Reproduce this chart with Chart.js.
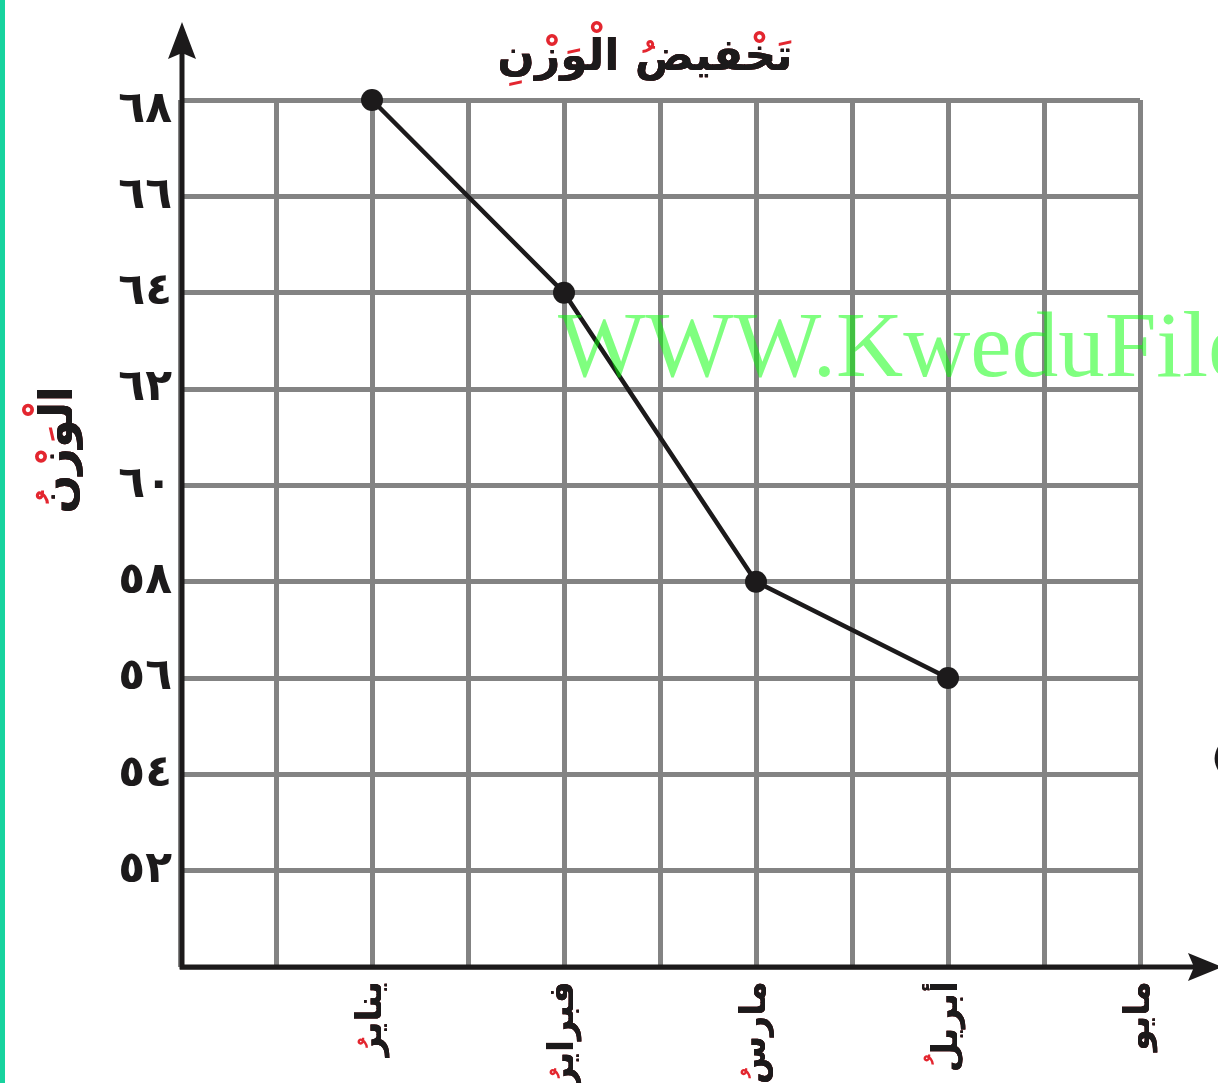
<!DOCTYPE html>
<html>
<head>
<meta charset="utf-8">
<title>تخفيض الوزن</title>
<style>
  html, body { margin: 0; padding: 0; background: #ffffff; }
  #wrap { position: relative; width: 1218px; height: 1083px; overflow: hidden; }
  #edge { position: absolute; left: 0; top: 0; width: 5px; height: 1083px; background: #17d39e; }
  canvas { display: block; }
</style>
<script src="https://cdn.jsdelivr.net/npm/chart.js@4.4.1/dist/chart.umd.min.js"></script>
</head>
<body>
<div id="wrap">
  <canvas id="chart" width="1218" height="1083"></canvas>
  <div id="edge"></div>
</div>
<script>
// Months along the horizontal axis (index = position on the axis)
const months = ['ينايرُ', 'فبرايرُ', 'مارسُ', 'أبريلُ', 'مايو'];
// Recorded weight for each month (kg)
const weights = [68, 64, 58, 56];

// Tick values and their labels
const xTickValues = [-1, -0.5, 0, 0.5, 1, 1.5, 2, 2.5, 3, 3.5, 4];
const yTickValues = [50, 52, 54, 56, 58, 60, 62, 64, 66, 68];
const yTickLabels = ['', '٥٢', '٥٤', '٥٦', '٥٨', '٦٠', '٦٢', '٦٤', '٦٦', '٦٨'];

const chartTitle = 'تَخْفيضُ الْوَزْنِ';
const yTitle = 'الْوَزْنُ';
const watermark = 'WWW.KweduFiles.Com';

const FONT = "'DejaVu Sans', sans-serif";
const INK = '#1c1a1b';
const ACCENT = '#e3262f';
const GRID = '#838383';

// Remove harakat so a black pass can cover the base letters
const stripMarks = s => s.replace(/[\u064B-\u0652]/g, '');

function twoToneText(ctx, text, x, y, font, rotation, align, baseline) {
  ctx.save();
  ctx.translate(x, y);
  ctx.rotate(rotation);
  ctx.font = font;
  ctx.textAlign = align;
  ctx.textBaseline = baseline;
  ctx.fillStyle = ACCENT;
  ctx.fillText(text, 0, 0);
  ctx.fillStyle = INK;
  ctx.fillText(stripMarks(text), 0, 0);
  ctx.fillText(stripMarks(text), 0, 0);
  ctx.restore();
}

const decorations = {
  id: 'decorations',
  beforeDraw(chart) {
    // the top weight label sits a little below its grid line
    const top = yTickLabels[yTickLabels.length - 1];
    chart.scales.y.getLabelItems().forEach(item => {
      if (item.label === top && !item._shifted) {
        item.options.translation[1] += 11;
        item._shifted = true;
      }
    });
  },
  afterDraw(chart) {
    const ctx = chart.ctx;
    const area = chart.chartArea;
    const xs = chart.scales.x;

    // Black pass over the month labels, leaving only the harakat in red
    const items = xs.getLabelItems();
    items.forEach(item => {
      if (!item.label) return;
      const o = item.options;
      ctx.save();
      ctx.translate(o.translation[0], o.translation[1]);
      ctx.rotate(o.rotation);
      ctx.font = item.font.string;
      ctx.textAlign = o.textAlign;
      ctx.textBaseline = o.textBaseline;
      ctx.fillStyle = INK;
      ctx.fillText(stripMarks(item.label), 0, item.textOffset);
      ctx.fillText(stripMarks(item.label), 0, item.textOffset);
      ctx.restore();
    });

    // Axes with arrowheads
    const ax = area.left + 2;
    const ay = area.bottom;
    ctx.save();
    ctx.strokeStyle = INK;
    ctx.fillStyle = INK;
    ctx.lineWidth = 5;
    ctx.lineCap = 'butt';
    ctx.beginPath();
    ctx.moveTo(ax, ay + 2.5);
    ctx.lineTo(ax, 50);
    ctx.moveTo(ax - 2.5, ay);
    ctx.lineTo(1196, ay);
    ctx.stroke();
    // vertical arrowhead
    ctx.beginPath();
    ctx.moveTo(ax, 22);
    ctx.lineTo(ax + 14, 59);
    ctx.lineTo(ax, 53);
    ctx.lineTo(ax - 14, 59);
    ctx.closePath();
    ctx.fill();
    // horizontal arrowhead
    ctx.beginPath();
    ctx.moveTo(1222, ay);
    ctx.lineTo(1188, ay - 14);
    ctx.lineTo(1194, ay);
    ctx.lineTo(1188, ay + 14);
    ctx.closePath();
    ctx.fill();
    ctx.restore();

    // Chart title
    twoToneText(ctx, chartTitle, 645, 70, `bold 44px ${FONT}`, 0, 'center', 'alphabetic');

    // Vertical axis title
    twoToneText(ctx, yTitle, 72, 450, `bold 46px ${FONT}`, -Math.PI / 2, 'center', 'alphabetic');

    // Stray bracket at the right margin
    ctx.save();
    ctx.font = `bold 30px ${FONT}`;
    ctx.fillStyle = INK;
    ctx.textAlign = 'left';
    ctx.textBaseline = 'middle';
    ctx.fillText('(', 1212, 760);
    ctx.restore();

    // Site watermark
    ctx.save();
    ctx.font = `93px 'Liberation Serif', serif`;
    ctx.fillStyle = 'rgba(0, 255, 0, 0.5)';
    ctx.textAlign = 'left';
    ctx.textBaseline = 'alphabetic';
    ctx.fillText(watermark, 558, 376);
    ctx.restore();
  }
};

new Chart(document.getElementById('chart'), {
  type: 'line',
  data: {
    datasets: [{
      data: weights.map((w, i) => ({ x: i, y: w })),
      borderColor: INK,
      backgroundColor: INK,
      borderWidth: 4.5,
      pointRadius: 11,
      pointHoverRadius: 11,
      pointBackgroundColor: INK,
      pointBorderColor: INK,
      pointBorderWidth: 0,
      tension: 0,
      fill: false,
      clip: false
    }]
  },
  options: {
    responsive: false,
    animation: false,
    devicePixelRatio: 1,
    layout: { padding: { top: 100, right: 78, bottom: 0, left: 0 } },
    plugins: {
      legend: { display: false },
      tooltip: { enabled: false },
      title: { display: false }
    },
    scales: {
      x: {
        type: 'linear',
        min: -1,
        max: 4,
        afterBuildTicks: s => { s.ticks = xTickValues.map(v => ({ value: v })); },
        afterFit: s => { s.height = 116; },
        ticks: {
          autoSkip: false,
          minRotation: 90,
          maxRotation: 90,
          padding: 14,
          color: ACCENT,
          font: { family: FONT, size: 35, weight: 'bold' },
          callback: v => (Number.isInteger(v) && v >= 0 ? months[v] : '')
        },
        grid: { color: GRID, lineWidth: 5, drawTicks: false },
        border: { display: false }
      },
      y: {
        type: 'linear',
        min: 50,
        max: 68,
        afterBuildTicks: s => { s.ticks = yTickValues.map(v => ({ value: v })); },
        afterFit: s => { s.width = 180; },
        ticks: {
          padding: 8,
          color: INK,
          font: { family: FONT, size: 44, weight: 'bold' },
          callback: v => yTickLabels[yTickValues.indexOf(v)]
        },
        grid: { color: GRID, lineWidth: 5, drawTicks: false },
        border: { display: false }
      }
    }
  },
  plugins: [decorations]
});
</script>
</body>
</html>
